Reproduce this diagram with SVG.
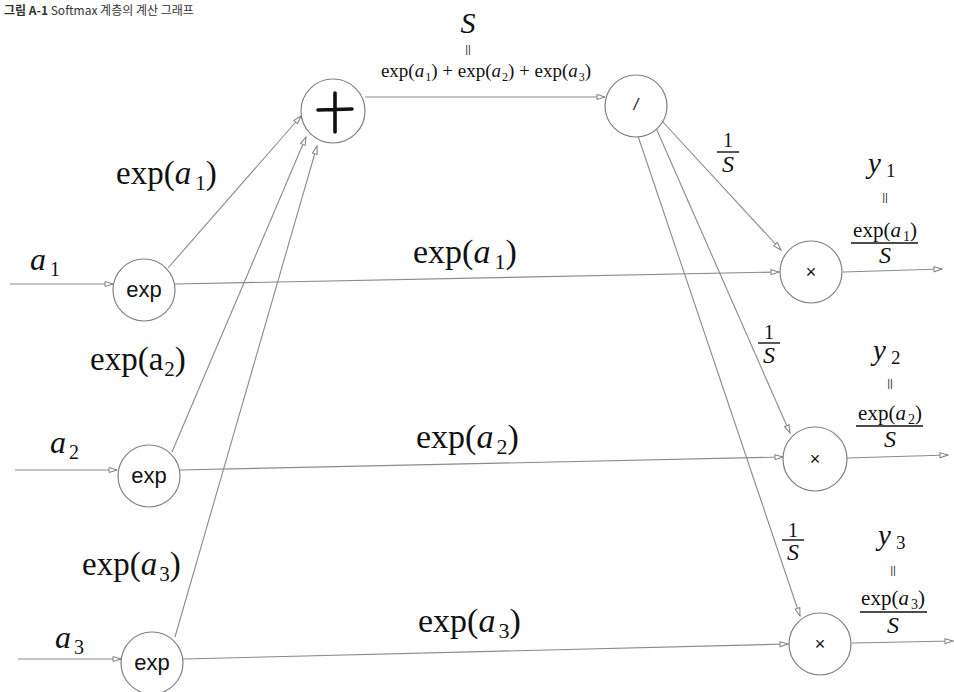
<svg xmlns="http://www.w3.org/2000/svg" width="954" height="692" viewBox="0 0 954 692">
<style>
.ln{stroke:#8a8a8a;stroke-width:1.1;fill:none;marker-end:url(#ah)}
.nd{fill:#fff;stroke:#808080;stroke-width:1.2}
.ser{font-family:"Liberation Serif","Times New Roman",serif;fill:#111}
.it{font-style:italic}
.sans{font-family:"Liberation Sans",Arial,sans-serif;fill:#111}
.eq{font-family:"Liberation Sans",Arial,sans-serif;fill:#333;font-size:11px;text-anchor:middle}
.bar{stroke:#111;stroke-width:1.4}
</style>
<defs>
<marker id="ah" markerWidth="10" markerHeight="8" refX="9" refY="3.5" orient="auto" markerUnits="userSpaceOnUse">
<path d="M1,1 L9,3.5 L1,6 z" fill="#fff" stroke="#808080" stroke-width="1"/>
</marker>
</defs>
<rect width="954" height="692" fill="#fff"/>
<text x="4" y="15" style="font-family:'Noto Sans CJK KR','Noto Sans',sans-serif;font-size:12px;fill:#333"><tspan font-weight="bold">그림 A-1</tspan> Softmax 계층의 계산 그래프</text>

<g id="connectors">
<line class="ln" x1="10" y1="284" x2="113" y2="284"/>
<line class="ln" x1="15" y1="470" x2="117" y2="470"/>
<line class="ln" x1="18" y1="659" x2="121" y2="659"/>
<line class="ln" x1="168" y1="268" x2="301" y2="116"/>
<line class="ln" x1="172" y1="452" x2="306" y2="137"/>
<line class="ln" x1="175" y1="637" x2="317" y2="146"/>
<line class="ln" x1="175" y1="284" x2="779" y2="272"/>
<line class="ln" x1="180" y1="470" x2="783" y2="457"/>
<line class="ln" x1="183" y1="659" x2="788" y2="644"/>
<line class="ln" x1="365" y1="97" x2="605" y2="97"/>
<line class="ln" x1="662" y1="121" x2="781" y2="250"/>
<line class="ln" x1="656" y1="128" x2="790" y2="433"/>
<line class="ln" x1="638" y1="136" x2="800" y2="616"/>
<line class="ln" x1="843" y1="272" x2="942" y2="269"/>
<line class="ln" x1="847" y1="458" x2="948" y2="455"/>
<line class="ln" x1="852" y1="643" x2="953" y2="641"/>
</g>

<g id="exp1"><circle class="nd" cx="144" cy="290" r="31"/><text class="sans" x="144" y="297" font-size="22" text-anchor="middle">exp</text></g>
<g id="exp2"><circle class="nd" cx="149" cy="476" r="31"/><text class="sans" x="149" y="483" font-size="22" text-anchor="middle">exp</text></g>
<g id="exp3"><circle class="nd" cx="152" cy="663" r="31"/><text class="sans" x="152" y="670" font-size="22" text-anchor="middle">exp</text></g>
<g id="plus"><circle class="nd" cx="333" cy="111" r="32"/>
<path d="M318,110 L352,109 M335,93 L335,132" stroke="#111" stroke-width="3.6" stroke-linecap="round"/></g>
<g id="div"><circle class="nd" cx="636" cy="106" r="31"/><text class="sans" x="636" y="110" font-size="16" text-anchor="middle" font-style="italic">/</text></g>
<g id="mul1"><circle class="nd" cx="811" cy="272" r="31"/><text class="sans" x="811" y="278" font-size="18" text-anchor="middle">×</text></g>
<g id="mul2"><circle class="nd" cx="815" cy="459" r="32"/><text class="sans" x="815" y="465" font-size="18" text-anchor="middle">×</text></g>
<g id="mul3"><circle class="nd" cx="820" cy="644" r="31"/><text class="sans" x="820" y="650" font-size="18" text-anchor="middle">×</text></g>

<g id="labels">
<text class="ser it" x="468" y="33" font-size="30" text-anchor="middle">S</text>
<text class="eq" x="468" y="53">||</text>
<text class="ser" x="486" y="77" font-size="19" text-anchor="middle">exp(<tspan class="it">a</tspan><tspan font-size="12" dy="4" dx="1">1</tspan><tspan dy="-4">) + exp(</tspan><tspan class="it">a</tspan><tspan font-size="12" dy="4" dx="1">2</tspan><tspan dy="-4">) + exp(</tspan><tspan class="it">a</tspan><tspan font-size="12" dy="4" dx="1">3</tspan><tspan dy="-4">)</tspan></text>

<text class="ser" x="116" y="184" font-size="33">exp(<tspan class="it">a</tspan><tspan font-size="21" dy="6" dx="4">1</tspan><tspan dy="-6">)</tspan></text>
<text class="ser it" x="30" y="270" font-size="32">a<tspan font-size="20" dy="6" dx="4" font-style="normal">1</tspan></text>
<text class="ser" x="90" y="370" font-size="33">exp(a<tspan font-size="21" dy="6" dx="1">2</tspan><tspan dy="-6">)</tspan></text>
<text class="ser it" x="50" y="453" font-size="32">a<tspan font-size="20" dy="6" dx="3" font-style="normal">2</tspan></text>
<text class="ser" x="82" y="575" font-size="33">exp(<tspan class="it">a</tspan><tspan font-size="21" dy="6" dx="2">3</tspan><tspan dy="-6">)</tspan></text>
<text class="ser it" x="55" y="648" font-size="32">a<tspan font-size="20" dy="6" dx="3" font-style="normal">3</tspan></text>

<text class="ser" x="413" y="263" font-size="34">exp(<tspan class="it">a</tspan><tspan font-size="22" dy="6" dx="4">1</tspan><tspan dy="-6">)</tspan></text>
<text class="ser" x="416" y="448" font-size="34">exp(<tspan class="it">a</tspan><tspan font-size="22" dy="6" dx="3">2</tspan><tspan dy="-6">)</tspan></text>
<text class="ser" x="418" y="632" font-size="34">exp(<tspan class="it">a</tspan><tspan font-size="22" dy="6" dx="3">3</tspan><tspan dy="-6">)</tspan></text>

<text class="ser" x="728" y="147" font-size="20" text-anchor="middle">1</text>
<line class="bar" x1="717" y1="152" x2="739" y2="152"/>
<text class="ser it" x="728" y="172" font-size="24" text-anchor="middle">S</text>
<text class="ser" x="769" y="339" font-size="20" text-anchor="middle">1</text>
<line class="bar" x1="758" y1="343" x2="780" y2="343"/>
<text class="ser it" x="769" y="363" font-size="24" text-anchor="middle">S</text>
<text class="ser" x="793" y="537" font-size="20" text-anchor="middle">1</text>
<line class="bar" x1="782" y1="540" x2="804" y2="540"/>
<text class="ser it" x="793" y="560" font-size="24" text-anchor="middle">S</text>

<text class="ser it" x="868" y="173" font-size="29">y<tspan font-size="19" dy="4" dx="5" font-style="normal">1</tspan></text>
<text class="eq" x="885" y="201">||</text>
<text class="ser" x="885" y="237" font-size="21" text-anchor="middle">exp(<tspan class="it">a</tspan><tspan font-size="14" dy="4" dx="2">1</tspan><tspan dy="-4">)</tspan></text>
<line class="bar" x1="851" y1="243" x2="918" y2="243"/>
<text class="ser it" x="885" y="263" font-size="24" text-anchor="middle">S</text>

<text class="ser it" x="873" y="360" font-size="29">y<tspan font-size="19" dy="4" dx="5" font-style="normal">2</tspan></text>
<text class="eq" x="890" y="387">||</text>
<text class="ser" x="890" y="420" font-size="21" text-anchor="middle">exp(<tspan class="it">a</tspan><tspan font-size="14" dy="4" dx="2">2</tspan><tspan dy="-4">)</tspan></text>
<line class="bar" x1="856" y1="426" x2="923" y2="426"/>
<text class="ser it" x="890" y="447" font-size="24" text-anchor="middle">S</text>

<text class="ser it" x="878" y="545" font-size="29">y<tspan font-size="19" dy="4" dx="5" font-style="normal">3</tspan></text>
<text class="eq" x="893" y="574">||</text>
<text class="ser" x="893" y="605" font-size="21" text-anchor="middle">exp(<tspan class="it">a</tspan><tspan font-size="14" dy="4" dx="2">3</tspan><tspan dy="-4">)</tspan></text>
<line class="bar" x1="860" y1="612" x2="927" y2="612"/>
<text class="ser it" x="893" y="633" font-size="24" text-anchor="middle">S</text>
</g>
</svg>
